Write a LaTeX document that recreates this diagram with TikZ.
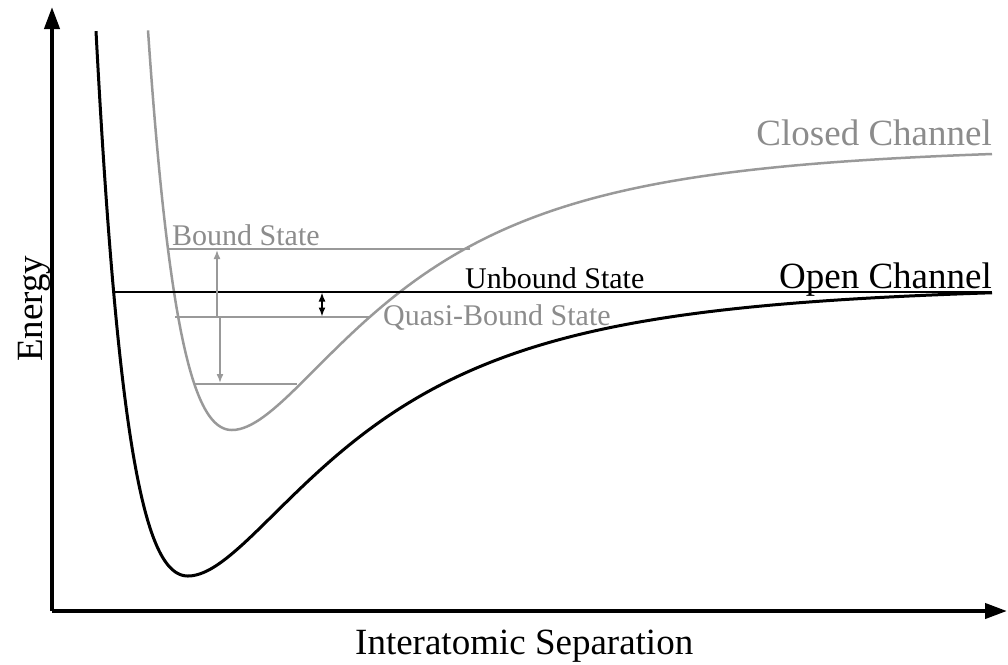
\documentclass[tikz,border=0pt]{standalone}
\usepackage{fontspec}
\setmainfont{Liberation Serif}
\usetikzlibrary{arrows.meta}
\definecolor{curvegray}{HTML}{999999}
\definecolor{textgray}{HTML}{8C8C8C}
\begin{document}
\begin{tikzpicture}[x=1pt,y=-1pt,
  axis/.style={line width=4pt,-{Triangle[width=15pt,length=22pt]}},
  opencurve/.style={line width=3pt,black},
  closedcurve/.style={line width=2.5pt,curvegray},
  level/.style={line width=2pt,curvegray},
  glevel/.style={line width=1.5pt,black},
  garrow/.style={line width=1.6pt,curvegray,-{Latex[width=7pt,length=9pt]}},
  barrow/.style={line width=1.6pt,black,{Latex[width=7pt,length=9pt]}-{Latex[width=7pt,length=9pt]}},
  small/.style={font=\fontsize{30}{36}\selectfont,inner sep=0pt},
  big/.style={font=\fontsize{37}{44}\selectfont,inner sep=0pt}]
\useasboundingbox (0,0) rectangle (1008,664);
% axes
\coordinate (origin) at (52,611);
\coordinate (ytop) at (52,7);
\coordinate (xend) at (1007,611);
\draw[axis] (origin) -- (ytop);
\draw[axis] (origin) -- (xend);
% open channel (black)
\draw[opencurve,line join=round]
  plot[domain=96:188,samples=90,smooth] (\x,{576-292*(1-(688/(\x+500))^6)^2})
  -- plot[domain=188:992,samples=200,smooth] (\x,{576-292*(1-(795/(\x+607))^6)^2});
% closed channel (gray)
\draw[closedcurve,line join=round]
  plot[domain=148:232,samples=90,smooth] (\x,{430-285*(1-(688/(\x+456))^6)^2})
  -- plot[domain=232:992,samples=200,smooth] (\x,{430-285*(1-(765/(\x+533))^6)^2});
% levels
\coordinate (b1) at (168,249); \coordinate (b2) at (470,249);
\coordinate (q1) at (175,317); \coordinate (q2) at (370,317);
\coordinate (l1) at (194,384); \coordinate (l2) at (297,384);
\coordinate (u1) at (113,292); \coordinate (u2) at (992,292);
\draw[level] (b1) -- (b2);
\draw[level] (q1) -- (q2);
\draw[level] (l1) -- (l2);
\draw[glevel] (u1) -- (u2);
% arrows
\coordinate (a1s) at (217,317); \coordinate (a1e) at (217,250);
\coordinate (a2s) at (220,317); \coordinate (a2e) at (220,383);
\coordinate (a3s) at (322,292.5); \coordinate (a3e) at (322,316.5);
\draw[garrow] (a1s) -- (a1e);
\draw[garrow] (a2s) -- (a2e);
\draw[barrow] (a3s) -- (a3e);
% labels
\node[small,textgray,anchor=base west] (lbound) at (172,245) {Bound State};
\node[small,black,anchor=base west] (lunbound) at (465,288) {Unbound State};
\node[small,textgray,anchor=base west] (lquasi) at (383,325) {Quasi-Bound State};
\node[big,textgray,anchor=base east] (lclosed) at (992,145) {Closed Channel};
\node[big,black,anchor=base east] (lopen) at (992,288) {Open Channel};
\node[big,black,anchor=base west] (lx) at (355,654) {Interatomic Separation};
\node[big,black,anchor=base west,rotate=90] (ly) at (42,362) {Energy};
\end{tikzpicture}
\end{document}
